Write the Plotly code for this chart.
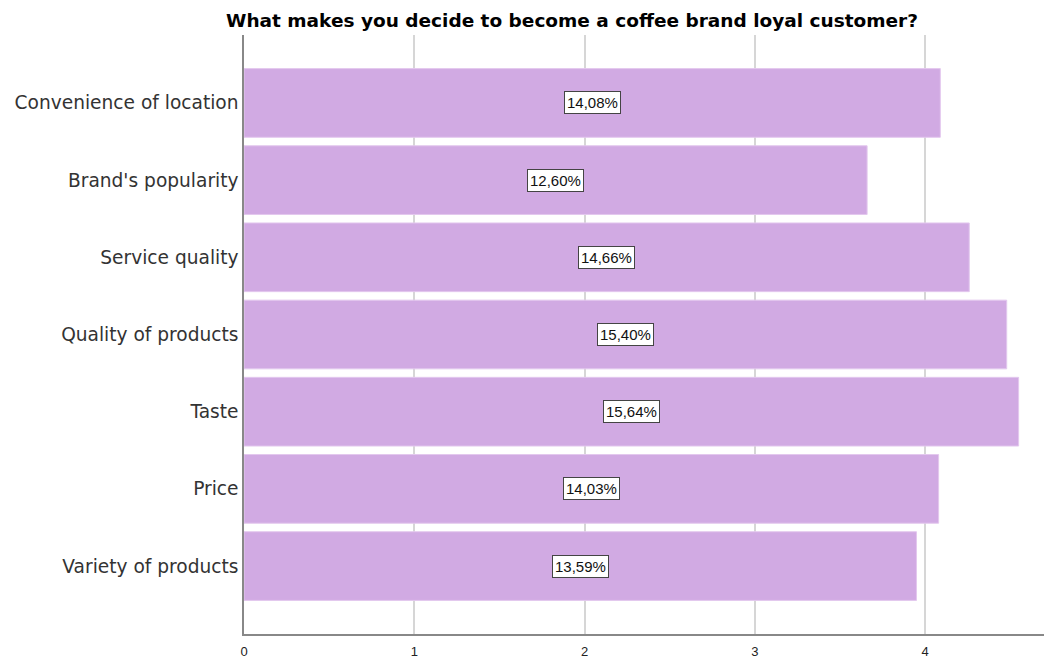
import plotly.graph_objects as go

categories = ["Convenience of location", "Brand's popularity", "Service quality",
              "Quality of products", "Taste", "Price", "Variety of products"]
values = [4.09, 3.66, 4.26, 4.48, 4.55, 4.08, 3.95]
pct_labels = ["14,08%", "12,60%", "14,66%", "15,40%", "15,64%", "14,03%", "13,59%"]
x_ticks = [0, 1, 2, 3, 4]

# page body has an 8px margin, so the figure is sized to fit the window
W, H = 1044, 652
L, R, T, B = 236, 0, 27, 26

fig = go.Figure(go.Bar(
    y=categories, x=values, orientation="h",
    marker=dict(color="#d1aae3", line=dict(color="#e3c8ee", width=1)),
    width=0.89, hoverinfo="skip",
))

for c, v, t in zip(categories, values, pct_labels):
    fig.add_annotation(x=v / 2, y=c, text=t, showarrow=False,
                       font=dict(family="Liberation Sans, Arial", size=15, color="#111"),
                       bgcolor="white", bordercolor="#444", borderwidth=1, borderpad=2)

fig.add_annotation(xref="paper", yref="paper",
                   x=(564 - L) / (W - L - R), y=1 + (T - 12) / (H - T - B),
                   text="<b>What makes you decide to become a coffee brand loyal customer?</b>",
                   showarrow=False, xanchor="center", yanchor="middle",
                   font=dict(family="DejaVu Sans", size=18.5, color="#000"))

fig.update_layout(
    width=W, height=H,
    margin=dict(l=L, r=R, t=T, b=B, autoexpand=False),
    paper_bgcolor="white", plot_bgcolor="white",
    showlegend=False,
    xaxis=dict(range=[0, 4.746], tickvals=x_ticks, ticktext=[str(v) for v in x_ticks],
               automargin=False,
               showgrid=True, gridcolor="#d6d6d6", gridwidth=1.5,
               showline=True, linecolor="#888", linewidth=1.5,
               zeroline=False, ticks="", ticklen=0, ticklabelstandoff=5,
               tickfont=dict(family="Liberation Sans, Arial", size=13, color="#222")),
    yaxis=dict(type="category", categoryorder="array", categoryarray=categories,
               range=[6.88, -0.88], showgrid=False, automargin=False,
               showline=True, linecolor="#888", linewidth=1.5,
               ticks="", ticklen=0, ticklabelstandoff=0,
               tickfont=dict(family="DejaVu Sans", size=18.6, color="#333")),
)

fig.write_html("out.html")
